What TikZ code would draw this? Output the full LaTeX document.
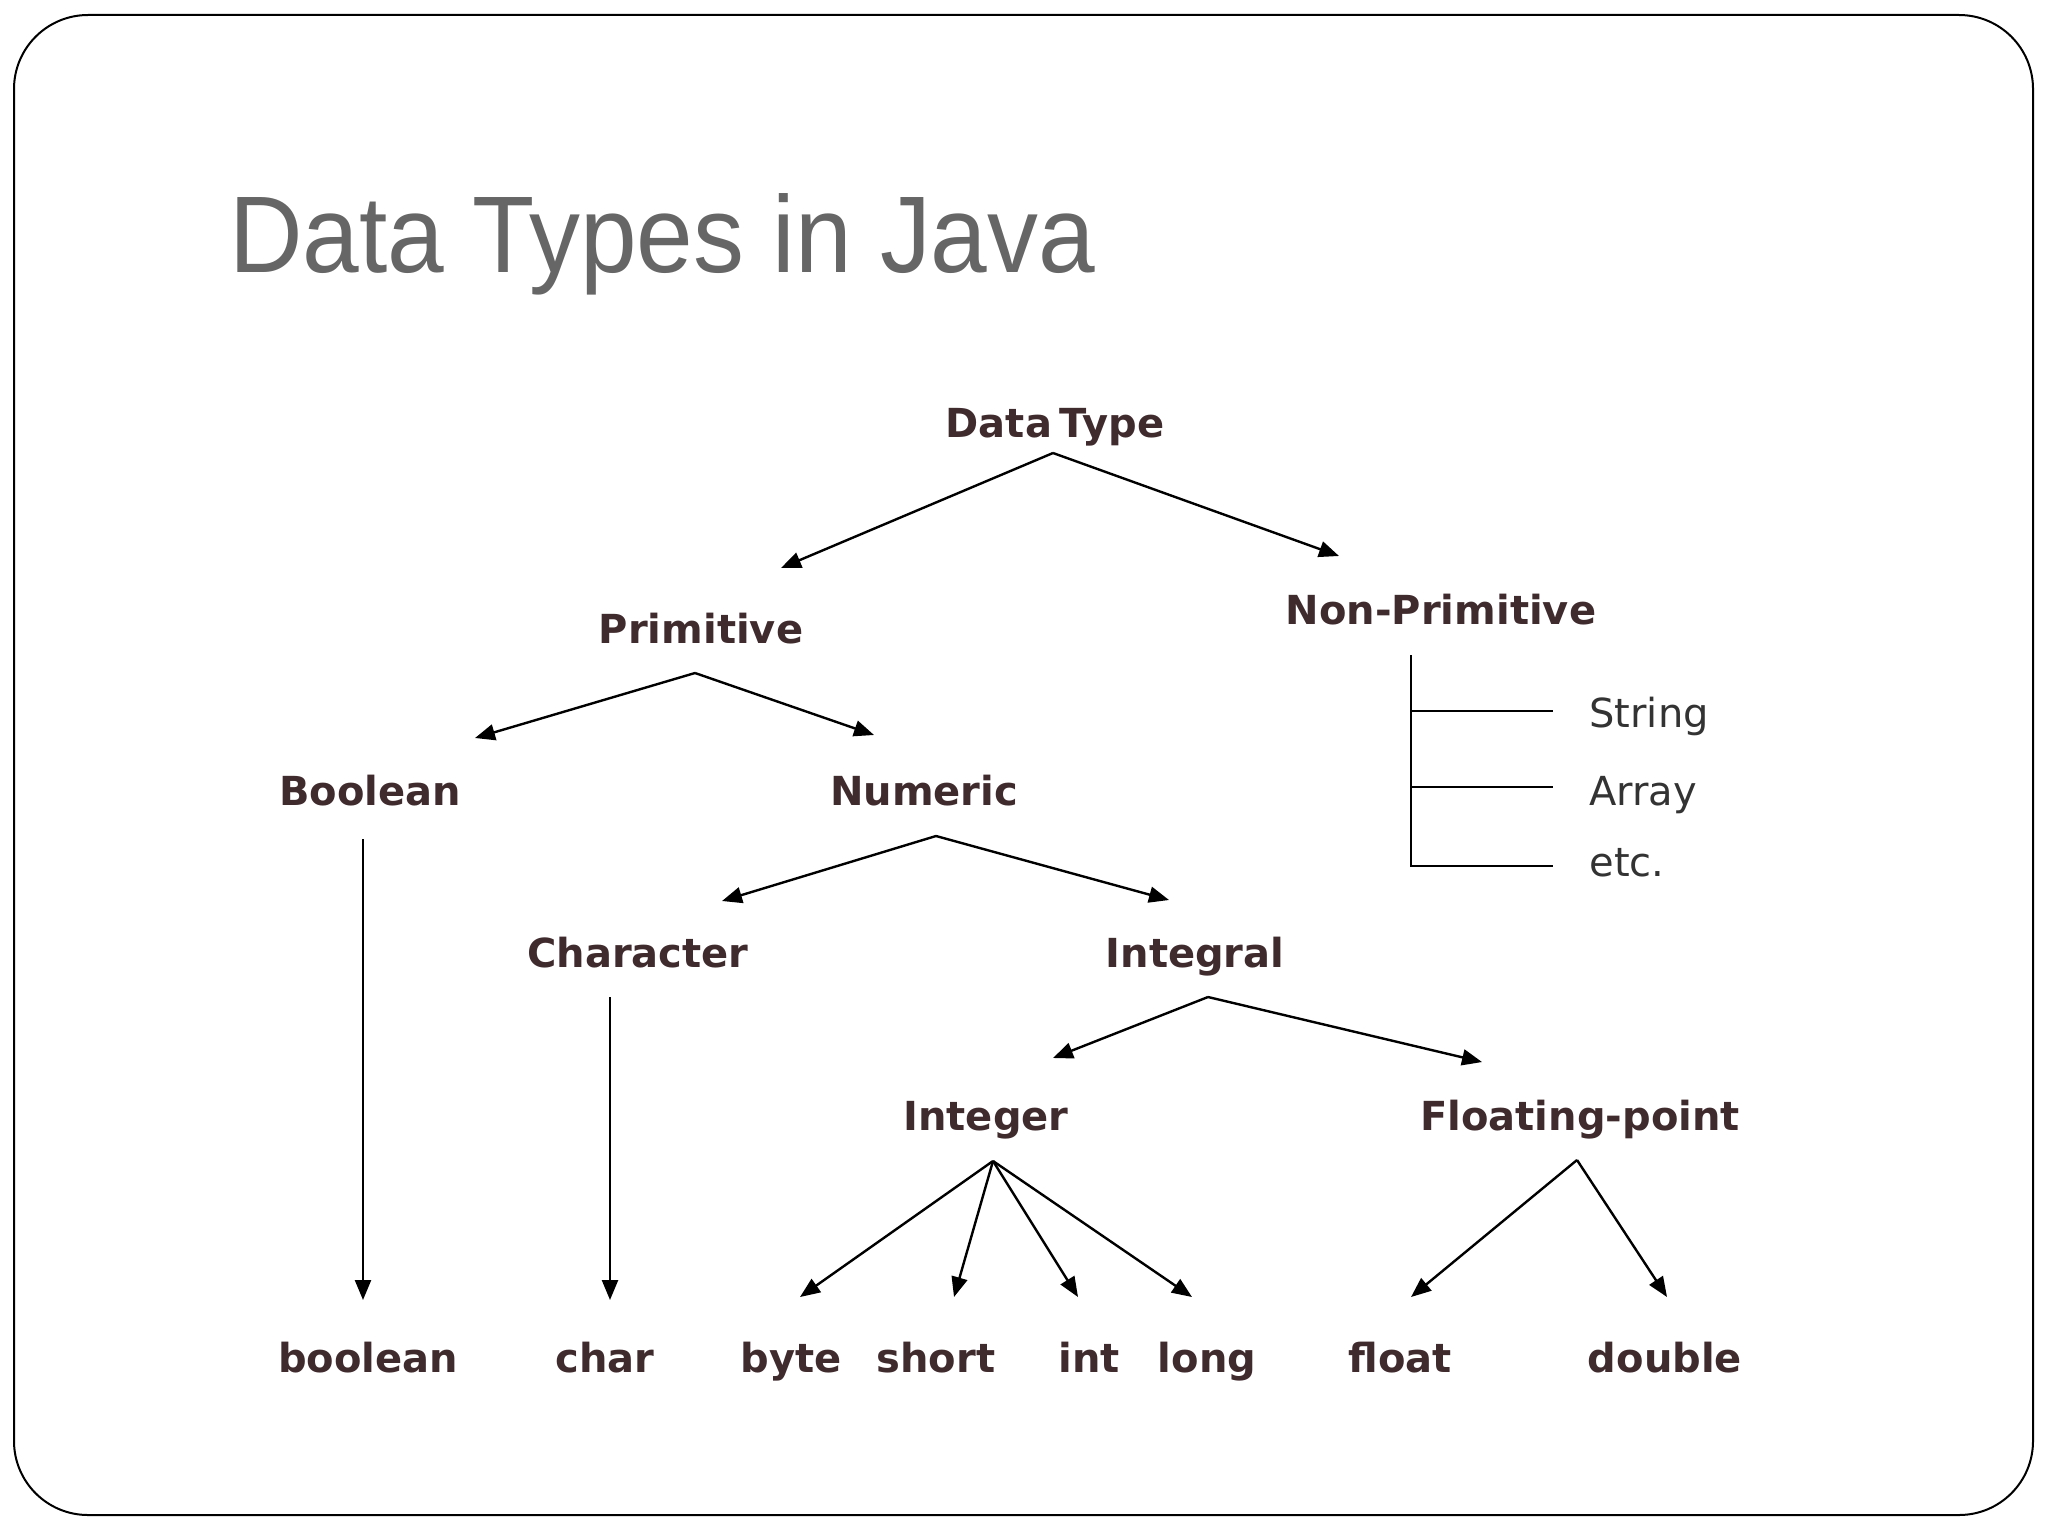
\documentclass[tikz,border=0pt]{standalone}
\usepackage{fontspec}
\setmainfont{DejaVu Sans}
\newfontfamily\titlefont[FakeStretch=0.934]{Liberation Sans}
\usetikzlibrary{arrows.meta}
\definecolor{labelc}{HTML}{3F2A2D}
\definecolor{titlec}{HTML}{666666}
\definecolor{subc}{HTML}{333333}
\begin{document}
\begin{tikzpicture}[x=0.5pt,y=-0.5pt,
  lbl/.style={font=\bfseries\fontsize{20}{24}\selectfont, text=labelc, inner sep=0pt, anchor=base},
  sub/.style={font=\fontsize{20}{24}\selectfont, text=subc, inner sep=0pt, anchor=base west},
  arr/.style={line width=1.2pt, -{Triangle[length=10pt,width=8pt]}},
  ln/.style={line width=1.2pt},
  frame/.style={line width=1pt, rounded corners=37pt},
  ttl/.style={font=\titlefont\fontsize{54.5}{60}\selectfont, text=titlec, inner sep=0pt, anchor=base west}
]
\useasboundingbox (0,0) rectangle (2048,1536);
\draw[frame] (14,15) rectangle (2033,1515);
\node[ttl] (title) at (229,272) {Data Types in Java};

% labels
\node[lbl] (dt) at (1055,437) {Data\kern-0.15em\ Type};
\node[lbl] (prim) at (701,643) {Primitive};
\node[lbl] (nonprim) at (1441,624) {Non-Primitive};
\node[lbl] (bool) at (370,805) {Boolean};
\node[lbl] (num) at (924,805) {Numeric};
\node[lbl] (chr) at (638,967) {Character};
\node[lbl] (integral) at (1195,967) {Integral};
\node[lbl] (integer) at (986,1130) {Integer};
\node[lbl] (fp) at (1580,1130) {Floating-point};
\node[lbl] (tbool) at (368,1372) {boolean};
\node[lbl] (tchar) at (605,1372) {char};
\node[lbl] (tbyte) at (791,1372) {byte};
\node[lbl] (tshort) at (936,1372) {short};
\node[lbl] (tint) at (1089,1372) {int};
\node[lbl] (tlong) at (1207,1372) {long};
\node[lbl] (tfloat) at (1400,1372) {float};
\node[lbl] (tdouble) at (1665,1372) {double};
\node[sub] (str) at (1589,727) {String};
\node[sub] (arrs) at (1589,805) {Array};
\node[sub] (etc) at (1589,876) {etc.};

% connector points
\coordinate (dtA) at (1053,453);
\coordinate (primT) at (781,568);
\coordinate (nonT) at (1339,556);
\coordinate (primA) at (695,673);
\coordinate (boolT) at (475,738);
\coordinate (numT) at (874,735);
\coordinate (boolS) at (363,839);
\coordinate (tboolT) at (363,1300);
\coordinate (numA) at (936,836);
\coordinate (chrT) at (722,901);
\coordinate (intlT) at (1169,900);
\coordinate (chrS) at (610,997);
\coordinate (tcharT) at (610,1300);
\coordinate (intlA) at (1208,997);
\coordinate (integerT) at (1053,1058);
\coordinate (fpT) at (1482,1062);
\coordinate (integerA) at (993,1161);
\coordinate (byteT) at (800,1297);
\coordinate (shortT) at (954,1297);
\coordinate (intT) at (1078,1297);
\coordinate (longT) at (1192,1297);
\coordinate (fpA) at (1577,1160);
\coordinate (floatT) at (1411,1297);
\coordinate (doubleT) at (1667,1297);
\coordinate (npTop) at (1411,655);
\coordinate (npS) at (1411,711);
\coordinate (npA) at (1411,787);
\coordinate (npE) at (1411,866);
\coordinate (npSe) at (1553,711);
\coordinate (npAe) at (1553,787);
\coordinate (npEe) at (1553,866);

% arrows
\draw[arr] (dtA) -- (primT);
\draw[arr] (dtA) -- (nonT);
\draw[arr] (primA) -- (boolT);
\draw[arr] (primA) -- (numT);
\draw[arr] (boolS) -- (tboolT);
\draw[arr] (numA) -- (chrT);
\draw[arr] (numA) -- (intlT);
\draw[arr] (chrS) -- (tcharT);
\draw[arr] (intlA) -- (integerT);
\draw[arr] (intlA) -- (fpT);
\draw[arr] (integerA) -- (byteT);
\draw[arr] (integerA) -- (shortT);
\draw[arr] (integerA) -- (intT);
\draw[arr] (integerA) -- (longT);
\draw[arr] (fpA) -- (floatT);
\draw[arr] (fpA) -- (doubleT);

% non-primitive bracket
\draw[ln] (npTop) -- (npE) -- (npEe);
\draw[ln] (npS) -- (npSe);
\draw[ln] (npA) -- (npAe);
\end{tikzpicture}
\end{document}
